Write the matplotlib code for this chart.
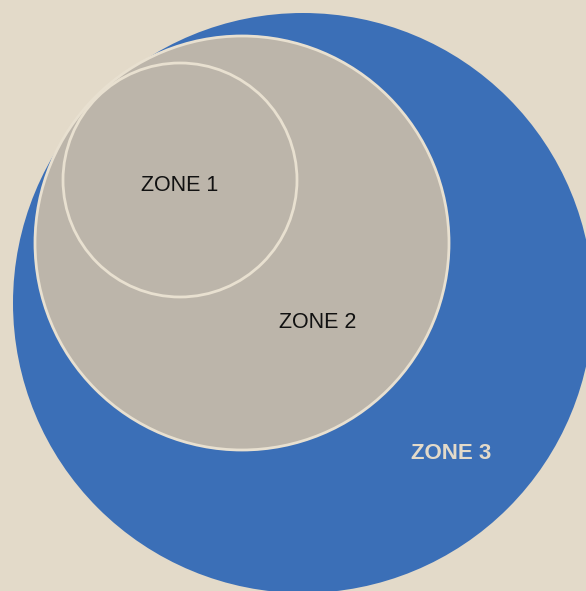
import matplotlib
matplotlib.use("Agg")
import matplotlib.pyplot as plt
from matplotlib.patches import Circle

# Data
zones = ["ZONE 3", "ZONE 2", "ZONE 1"]
center_x = [303, 242, 180]
center_y = [303, 243, 180]
radii = [290, 207, 117]
label_x = [451, 318, 180]
label_y = [453.5, 322.5, 185.5]
fill_colors = ["#3B6FB7", "#BCB5AA", "#BCB5AA"]
edge_colors = ["none", "#E8E0D0", "#E8E0D0"]
label_colors = ["#E3DAC9", "#111111", "#111111"]
label_weights = ["bold", "normal", "normal"]
label_sizes = [16, 15.5, 15.5]

BG = "#E3DAC9"
W, H = 586, 591

fig = plt.figure(figsize=(W / 100, H / 100), dpi=100)
fig.patch.set_facecolor(BG)
ax = fig.add_axes([0, 0, 1, 1])
ax.set_facecolor(BG)
ax.set_xlim(0, W)
ax.set_ylim(H, 0)
ax.set_aspect("equal")
ax.axis("off")

for i, z in enumerate(zones):
    c = Circle((center_x[i], center_y[i]), radii[i], facecolor=fill_colors[i],
               edgecolor=edge_colors[i], linewidth=2.0, zorder=i + 1)
    ax.add_patch(c)

for i, z in enumerate(zones):
    ax.text(label_x[i], label_y[i], z, ha="center", va="center",
            fontsize=label_sizes[i], family="Liberation Sans", color=label_colors[i],
            fontweight=label_weights[i], zorder=10)

fig.savefig("out.png", dpi=100, facecolor=BG)
